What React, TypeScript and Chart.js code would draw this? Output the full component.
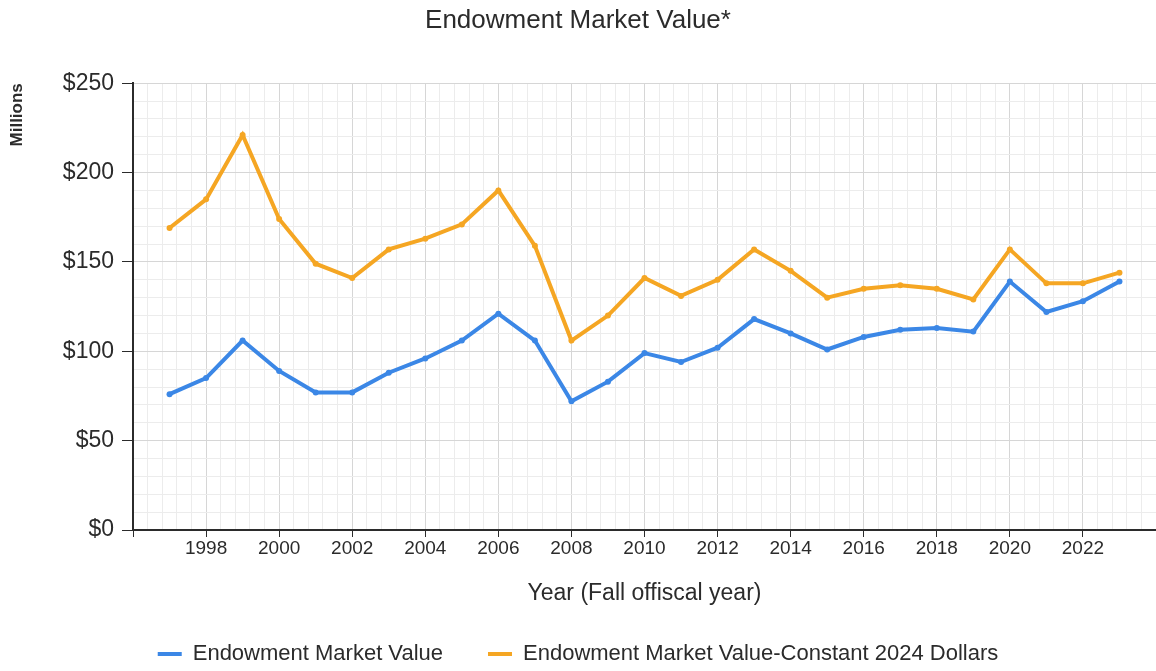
import React, { useEffect, useRef } from "react";
import { Chart, registerables } from "chart.js";

Chart.register(...registerables);

const years: number[] = [1997, 1998, 1999, 2000, 2001, 2002, 2003, 2004, 2005, 2006, 2007, 2008, 2009, 2010, 2011, 2012, 2013, 2014, 2015, 2016, 2017, 2018, 2019, 2020, 2021, 2022, 2023];
const marketValue: number[] = [76, 85, 106, 89, 77, 77, 88, 96, 106, 121, 106, 72, 83, 99, 94, 102, 118, 110, 101, 108, 112, 113, 111, 139, 122, 128, 139];
const constantDollars: number[] = [169, 185, 221, 174, 149, 141, 157, 163, 171, 190, 159, 106, 120, 141, 131, 140, 157, 145, 130, 135, 137, 135, 129, 157, 138, 138, 144];

const seriesLabels: string[] = ["Endowment Market Value", "Endowment Market Value-Constant 2024 Dollars"];
const chartTitle = "Endowment Market Value*";
const xTitle = "Year (Fall offiscal year)";
const yTitle = "Millions";

const BLUE = "#3b87e6";
const ORANGE = "#f5a623";
const TEXT = "#2b2b2b";
const MAJOR_GRID = "#d6d6d6";
const MINOR_GRID = "#ececec";
const FONT = "'Liberation Sans', Arial, sans-serif";

const isWhole = (v: number) => Math.abs(v - Math.round(v)) < 1e-6;
const isMajorYear = (v: number) => isWhole(v) && Math.round(v) % 2 === 0;
const isMajorValue = (v: number) => isWhole(v) && Math.round(v) % 50 === 0;

export default function App() {
  const canvasRef = useRef<HTMLCanvasElement | null>(null);

  useEffect(() => {
    document.body.style.margin = "0";
    const canvas = canvasRef.current;
    if (!canvas) return;
    Chart.defaults.font.family = FONT;
    const chart = new Chart(canvas, {
      type: "line",
      data: {
        datasets: [
          {
            label: seriesLabels[0],
            data: years.map((y, i) => ({ x: y, y: marketValue[i] })),
            borderColor: BLUE,
            backgroundColor: BLUE,
            borderWidth: 4,
            pointRadius: 3,
            pointBorderWidth: 0,
            tension: 0,
          },
          {
            label: seriesLabels[1],
            data: years.map((y, i) => ({ x: y, y: constantDollars[i] })),
            borderColor: ORANGE,
            backgroundColor: ORANGE,
            borderWidth: 4,
            pointRadius: 3,
            pointBorderWidth: 0,
            tension: 0,
          },
        ],
      },
      options: {
        animation: false,
        responsive: true,
        maintainAspectRatio: false,
        layout: { autoPadding: false, padding: { left: 0, right: 0, top: 0, bottom: -4 } },
        plugins: {
          title: {
            display: true,
            text: chartTitle,
            color: TEXT,
            font: { size: 26, weight: "normal", family: FONT },
            padding: { top: 5, bottom: 47 },
          },
          legend: {
            position: "bottom",
            labels: {
              color: TEXT,
              font: { size: 22, family: FONT },
              boxWidth: 24,
              boxHeight: 4,
              padding: 45,
              generateLabels: (c: any) =>
                Chart.defaults.plugins.legend.labels.generateLabels(c).map((l: any) => ({ ...l, lineWidth: 0 })),
            },
          },
          tooltip: { enabled: false },
        },
        scales: {
          x: {
            type: "linear",
            min: 1996,
            max: 2024,
            afterFit: (s: any) => {
              s.height = 68;
            },
            ticks: {
              stepSize: 0.4,
              autoSkip: false,
              maxRotation: 0,
              minRotation: 0,
              padding: 0,
              color: TEXT,
              font: { size: 19, family: FONT },
              callback: (v: any) => {
                const n = Number(v);
                if (!isMajorYear(n)) return "";
                const yr = Math.round(n);
                return yr >= 1998 && yr <= 2022 ? String(yr) : "";
              },
            },
            grid: {
              color: (ctx: any) => (isMajorYear(ctx.tick.value) ? MAJOR_GRID : MINOR_GRID),
              tickColor: (ctx: any) => (isMajorYear(ctx.tick.value) ? TEXT : "rgba(0,0,0,0)"),
              tickLength: 7,
              lineWidth: 1,
            },
            border: { color: TEXT, width: 2 },
            title: {
              display: true,
              text: xTitle,
              color: TEXT,
              font: { size: 23, family: FONT },
              padding: { top: 0, bottom: -9 },
            },
          },
          y: {
            type: "linear",
            min: 0,
            max: 250,
            afterFit: (s: any) => {
              s.width = 133;
            },
            ticks: {
              stepSize: 10,
              autoSkip: false,
              padding: 8,
              color: TEXT,
              font: { size: 23, family: FONT },
              callback: (v: any) => (isMajorValue(Number(v)) ? "$" + Math.round(Number(v)) : ""),
            },
            grid: {
              color: (ctx: any) => (isMajorValue(ctx.tick.value) ? MAJOR_GRID : MINOR_GRID),
              tickColor: (ctx: any) => (isMajorValue(ctx.tick.value) ? TEXT : "rgba(0,0,0,0)"),
              tickLength: 11,
              lineWidth: 1,
            },
            border: { color: TEXT, width: 2 },
            title: {
              display: true,
              text: yTitle,
              align: "end",
              color: TEXT,
              font: { size: 17, weight: "bold", family: FONT },
              padding: { top: 7, bottom: 0 },
            },
          },
        },
      },
    } as any);
    return () => chart.destroy();
  }, []);

  return (
    <div style={{ position: "fixed", left: 0, top: 0, width: 1156, height: 671, background: "#fff" }}>
      <canvas ref={canvasRef} />
    </div>
  );
}
